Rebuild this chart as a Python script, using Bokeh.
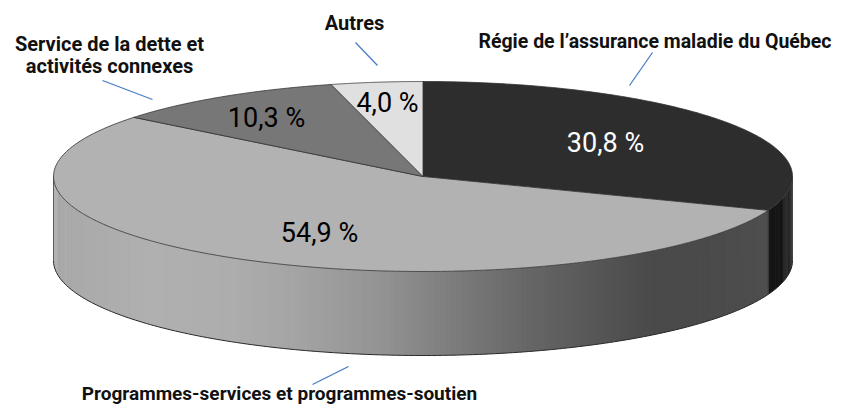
import numpy as np
from bokeh.plotting import figure
from bokeh.models import Range1d, ColumnDataSource
from bokeh.core.properties import value
from bokeh.embed import file_html
from bokeh.resources import INLINE

# ---- data ----
categories = ["Régie de l’assurance maladie du Québec",
              "Programmes-services et programmes-soutien",
              "Service de la dette et activités connexes",
              "Autres"]
shares = [30.8, 54.9, 10.3, 4.0]
pct_labels = ["30,8 %", "54,9 %", "10,3 %", "4,0 %"]

# ---- styling / layout ----
top_colors = ["#2d2d2d", "#b2b2b2", "#777777", "#e0e0e0"]
side_dark = "#151515"
pct_colors = ["white", "black", "black", "black"]
CX, CY, A, B, DEPTH = 422.5, 176.0, 369.5, 95.0, 84.0
# label placement (pixel coords): x, y, align, size
pct_pos = [(605, 142), (319, 232), (266, 117), (387, 102)]
cat_text = [["Régie de l’assurance maladie du Québec"],
            ["Programmes-services et programmes-soutien"],
            ["Service de la dette et", "activités connexes"],
            ["Autres"]]
cat_place = [(831, 41, "right", "19.5px"), (279, 393, "center", "19px"),
             (109, 43, "center", "20px"), (354, 22, "center", "20px")]
leaders = [((652, 52), (629, 85)), ((348, 366), (312, 384)),
           ((102, 80), (152, 99)), ((355, 42), (377, 65))]

W, H = 833, 404
p = figure(width=W, height=H, output_backend="svg", toolbar_location=None,
           x_range=Range1d(0, W), y_range=Range1d(H, 0), min_border=0)
p.axis.visible = False
p.grid.visible = False
p.outline_line_color = None
p.background_fill_color = "white"


def ept(theta_deg, dy=0.0):
    t = np.radians(theta_deg)
    return CX + A * np.sin(t), CY - B * np.cos(t) + dy


cum = np.concatenate([[0], np.cumsum(shares)])
angles = cum / cum[-1] * 360.0

# ---- side walls (front half: 90..270 degrees) ----
grad_x = [53, 150, 230, 300, 380, 440, 520, 600, 650, 700, 767, 795]
grad_v = [0xa8, 0xb0, 0xad, 0xa3, 0x93, 0x80, 0x68, 0x55, 0x4a, 0x4a, 0x4e, 0x4e]

xs_list, ys_list, cols = [], [], []
for i in range(len(shares)):
    a0, a1 = max(angles[i], 90.0), min(angles[i + 1], 270.0)
    if a1 <= a0:
        continue
    n = max(2, int((a1 - a0) / 0.8))
    edges = np.linspace(a0, a1, n + 1)
    for j in range(n):
        e0 = edges[j] - (0.3 if j > 0 else 0)
        e1 = edges[j + 1]
        tt = np.linspace(e0, e1, 4)
        tx, ty = ept(tt)
        bx, by = ept(tt[::-1], DEPTH)
        xs_list.append(list(tx) + list(bx))
        ys_list.append(list(ty) + list(by))
        if i == 0:
            cols.append(side_dark)
        else:
            xm = ept((e0 + e1) / 2)[0]
            v = int(round(np.interp(xm, grad_x, grad_v)))
            cols.append("#%02x%02x%02x" % (v, v, v))
p.patches(xs=xs_list, ys=ys_list, fill_color=cols, line_color=None)

# wall outlines
tt = np.linspace(90, 270, 200)
bx, by = ept(tt, DEPTH)
p.line(bx, by, line_color="#2a2a2a", line_width=1)
for ang in [90.0, 270.0, angles[1]]:
    x0, y0 = ept(ang)
    x1, y1 = ept(ang, DEPTH)
    p.line([x0, x1], [y0, y1], line_color="#2a2a2a", line_width=0.7)

# ---- top face ----
txs, tys = [], []
for i in range(len(shares)):
    tt = np.linspace(angles[i], angles[i + 1], 120)
    ex, ey = ept(tt)
    txs.append([CX] + list(ex) + [CX])
    tys.append([CY] + list(ey) + [CY])
p.patches(xs=txs, ys=tys, fill_color=top_colors, line_color="#333333", line_width=0.8)

# ---- percentage labels ----
src = ColumnDataSource(dict(x=[q[0] for q in pct_pos], y=[q[1] for q in pct_pos],
                            t=pct_labels, c=pct_colors))
p.text(x="x", y="y", text="t", text_color="c", source=src, text_align="center",
       text_baseline="middle", text_font=value("Roboto"), text_font_size="27px")

# ---- category labels ----
for lines, (x, y, al, fs) in zip(cat_text, cat_place):
    ys = [y + 22 * k for k in range(len(lines))]
    p.text(x=[x] * len(lines), y=ys, text=lines, text_align=al,
           text_baseline="middle", text_font=value("Roboto"),
           text_font_size=fs, text_font_style="bold", text_color="#111111")

# ---- leader lines ----
for (a_, b_) in leaders:
    p.line([a_[0], b_[0]], [a_[1], b_[1]], line_color="#4a7cc4", line_width=1.3)

open("out.html", "w").write(file_html(p, INLINE))
